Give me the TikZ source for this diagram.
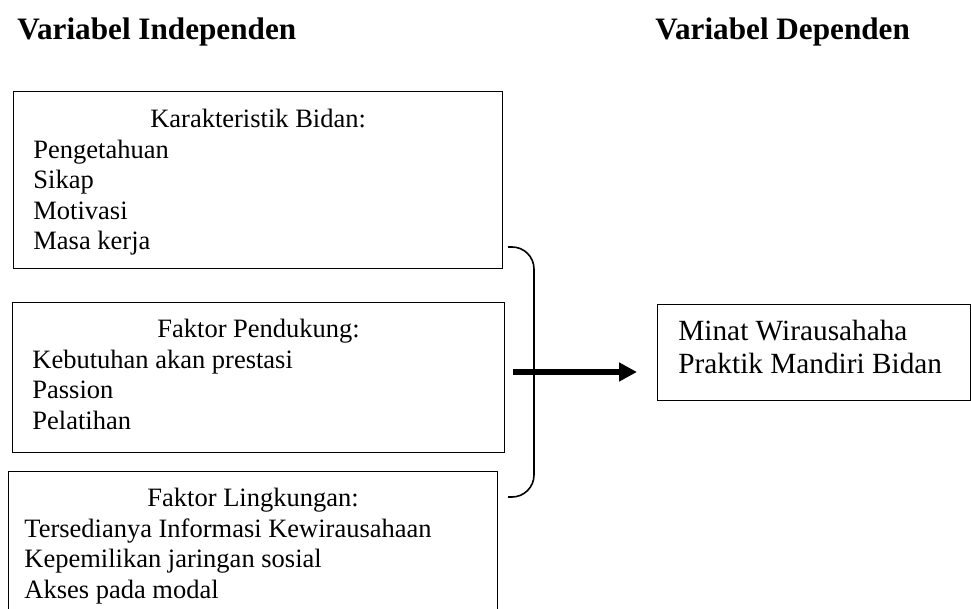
\documentclass[tikz,border=0pt]{standalone}
\usepackage{fontspec}
\setmainfont{Liberation Serif}
\usetikzlibrary{arrows.meta,positioning}

\begin{document}
\begin{tikzpicture}[x=0.5pt,y=-0.5pt,
    box/.style={draw,line width=0.6pt,inner sep=0pt,anchor=north west},
    title/.style={font=\fontsize{15.6}{18}\selectfont\bfseries,anchor=base west,inner sep=0pt},
    head/.style={font=\fontsize{13.25}{15}\selectfont,anchor=base,inner sep=0pt},
    item/.style={font=\fontsize{13.25}{15}\selectfont,anchor=base west,inner sep=0pt},
    big/.style={font=\fontsize{14.65}{17}\selectfont,anchor=base west,inner sep=0pt},
    brace/.style={line width=0.8pt,rounded corners=11pt},
    flow/.style={line width=2.8pt,-{Triangle[length=9pt,width=9pt]}}]
  \useasboundingbox (0,0) rectangle (971,609);
  % titles
  \node[title] (indep) at (17,40) {Variabel Independen};
  \node[title] (dep) at (655,40) {Variabel Dependen};
  % boxes on the left
  \node[box,minimum width=244.5pt,minimum height=88.5pt] (bidan) at (13,91) {};
  \node[box,minimum width=246pt,minimum height=75pt] (dukung) at (12,302) {};
  \node[box,minimum width=244.5pt,minimum height=74pt] (lingkungan) at (8,471) {};
  % box on the right
  \node[box,minimum width=156.5pt,minimum height=48pt] (minat) at (657,304) {};
  % texts
  \node[head] (bidanhead) at (bidan.north |- 0,128) {Karakteristik Bidan:};
  \foreach \txt [count=\i] in {Pengetahuan,Sikap,Motivasi,Masa kerja}
    \node[item] (bidan\i) at (33,128+30.5*\i) {\txt};
  \node[head] (dukunghead) at (dukung.north |- 0,338) {Faktor Pendukung:};
  \foreach \txt [count=\i] in {Kebutuhan akan prestasi,Passion,Pelatihan}
    \node[item] (dukung\i) at (32,338+30.5*\i) {\txt};
  \node[head] (linghead) at (lingkungan.north |- 0,507) {Faktor Lingkungan:};
  \foreach \txt [count=\i] in {Tersedianya Informasi Kewirausahaan,Kepemilikan jaringan sosial,Akses pada modal}
    \node[item] (ling\i) at (24,507+30.5*\i) {\txt};
  \node[big] (minat1) at (678,341) {Minat Wirausahaha};
  \node[big] (minat2) at (678,374) {Praktik Mandiri Bidan};
  % brace and arrow
  \coordinate (bracetop) at (508,247);
  \coordinate (bracebot) at (508,497);
  \draw[brace] (bracetop) -- ++(26,0) -- ++(0,250) -- (bracebot);
  \coordinate (arrowtail) at (513,372);
  \coordinate (arrowtip) at (637,372);
  \draw[flow] (arrowtail) -- (arrowtip);
\end{tikzpicture}
\end{document}
